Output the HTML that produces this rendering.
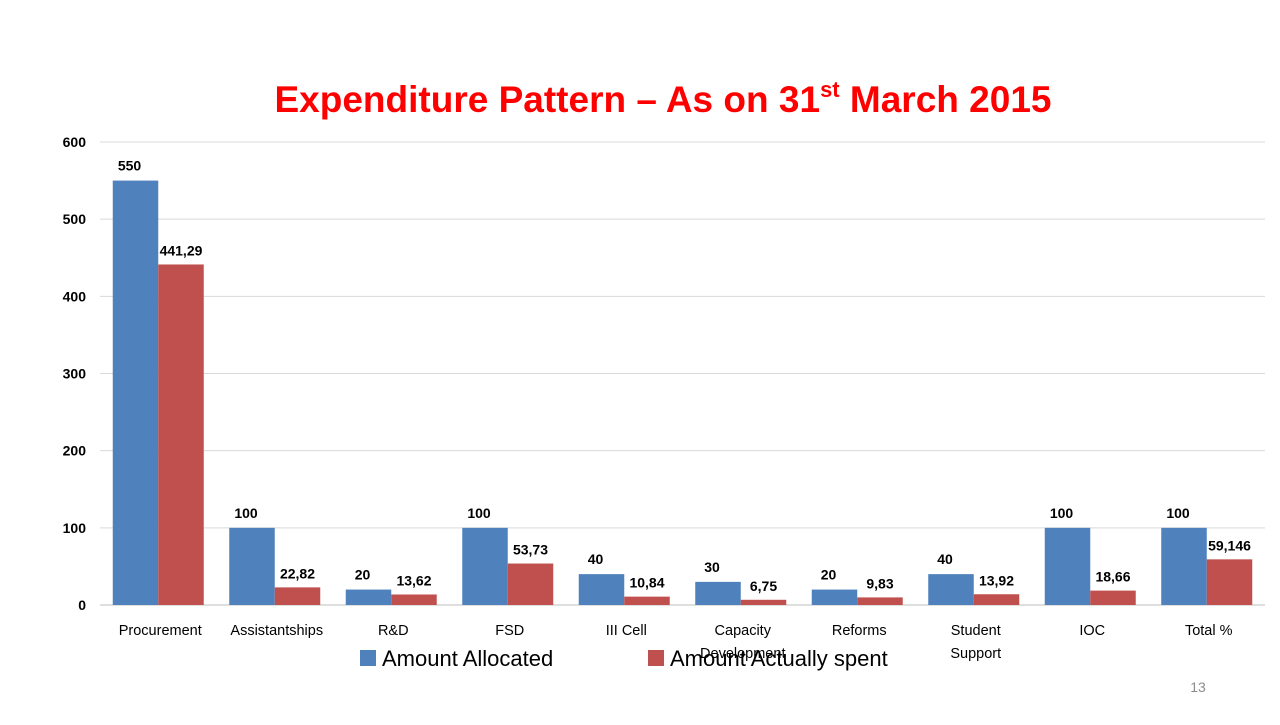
<!DOCTYPE html>
<html><head><meta charset="utf-8"><style>
body{margin:0;background:#fff;width:1280px;height:720px;overflow:hidden;font-family:"Liberation Sans",sans-serif}
</style></head><body>
<svg width="1280" height="720" xmlns="http://www.w3.org/2000/svg">
<text x="663" y="112" text-anchor="middle" font-size="37" font-weight="bold" fill="#ff0000">Expenditure Pattern – As on 31<tspan font-size="22" dy="-15">st</tspan><tspan dy="15"> March 2015</tspan></text>
<g id="grid"></g><g id="bars"></g><g id="labels"></g>
<rect x="360" y="650" width="16" height="16" fill="#4f81bd"/>
<text x="382" y="666" font-size="22">Amount Allocated</text>
<rect x="648" y="650" width="16" height="16" fill="#c0504d"/>
<text x="670" y="666" font-size="22">Amount Actually spent</text>
<text x="1198" y="692" text-anchor="middle" font-size="14" fill="#8c8c8c">13</text>
</svg>
<script>
const categories=[["Procurement"],["Assistantships"],["R&D"],["FSD"],["III Cell"],["Capacity","Development"],["Reforms"],["Student","Support"],["IOC"],["Total  %"]];
const allocated=[550,100,20,100,40,30,20,40,100,100];
const spent=[441.29,22.82,13.62,53.73,10.84,6.75,9.83,13.92,18.66,59.146];
const allocatedLabels=["550","100","20","100","40","30","20","40","100","100"];
const spentLabels=["441,29","22,82","13,62","53,73","10,84","6,75","9,83","13,92","18,66","59,146"];
const yTicks=[0,100,200,300,400,500,600];
const NS="http://www.w3.org/2000/svg";
const x0=100,x1=1265,y0=605,yTop=142,yMax=600;
const bw=(x1-x0)/categories.length;
const y=v=>y0-(v/yMax)*(y0-yTop);
function mk(t,a,p,txt){const e=document.createElementNS(NS,t);for(const k in a)e.setAttribute(k,a[k]);if(txt!==undefined)e.textContent=txt;p.appendChild(e);return e;}
const grid=document.getElementById('grid'),bars=document.getElementById('bars'),labels=document.getElementById('labels');
yTicks.forEach(t=>{
 const l=mk('line',{x1:x0,x2:x1,y1:y(t),y2:y(t),stroke:t===0?'#bfbfbf':'#d9d9d9','stroke-width':1},grid);
 
 
 const tx=mk('text',{x:86,y:y(t)+5,'text-anchor':'end','font-size':14,'font-weight':'bold'},grid,String(t));
 
 
});
categories.forEach((c,i)=>{
 const cx=x0+bw*i+bw/2, w=45.5;
 const b1=mk('rect',{x:cx-w,y:y(allocated[i]),width:w,height:y0-y(allocated[i]),fill:'#4f81bd'},bars);
 
 
 const b2=mk('rect',{x:cx,y:y(spent[i]),width:w,height:y0-y(spent[i]),fill:'#c0504d'},bars);
 
 
 const l1=mk('text',{x:cx-w/2-6,y:y(allocated[i])-10,'text-anchor':'middle','font-size':14,'font-weight':'bold'},labels,allocatedLabels[i]);
 
 
 const l2=mk('text',{x:cx+w/2,y:y(spent[i])-9,'text-anchor':'middle','font-size':14,'font-weight':'bold'},labels,spentLabels[i]);
 
 
 c.forEach((line,j)=>{
  const t=mk('text',{x:cx+2,y:635+j*23,'text-anchor':'middle','font-size':14.5},labels,line);
  
  
 });
});
</script>
</body></html>
